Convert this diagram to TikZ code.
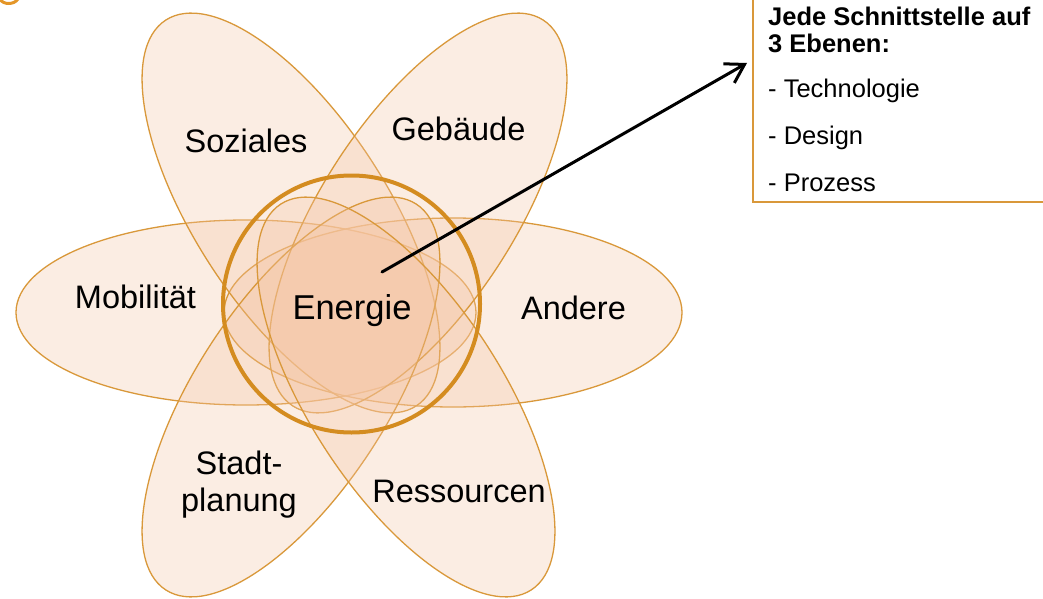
\documentclass[tikz,border=0pt]{standalone}
\usepackage{fontspec}
\setmainfont{Liberation Sans}
\usetikzlibrary{arrows.meta}
\definecolor{petalfill}{RGB}{245,198,165}
\definecolor{petalline}{RGB}{217,152,58}
\definecolor{ringcol}{RGB}{212,140,32}
\definecolor{titleorange}{RGB}{228,150,40}
\begin{document}
\begin{tikzpicture}[x=1pt,y=-1pt,
  petal/.style={draw=petalline, line width=1.3pt, fill=petalfill, fill opacity=0.3},
  lbl/.style={font=\fontsize{32.5}{37}\selectfont, text=black, inner sep=0pt, anchor=base},
  ring/.style={draw=ringcol, line width=4pt},
  infobox/.style={draw=petalline, line width=1.3pt},
  arrowline/.style={draw=black, line width=3pt, line cap=round, -{Straight Barb[length=18pt,width=22pt]}}]
\useasboundingbox (0,0) rectangle (1043,599);
\clip (0,0) rectangle (1043,599);
\fill[white] (0,0) rectangle (1043,599);
% cut-off glyph at top left
\draw[titleorange, line width=3pt] (0,-1) .. controls (3,5) and (14,5) .. (18,-1);
% petals
\path[petal] (246,312.5) ellipse [x radius=230pt, y radius=92.5pt];
\path[petal] (453,312.5) ellipse [x radius=229pt, y radius=94.5pt];
\path[petal, rotate around={-57:(291,213)}] (291,213) ellipse [x radius=230pt, y radius=96pt];
\path[petal, rotate around={57:(418,213)}] (418,213) ellipse [x radius=230pt, y radius=96pt];
\path[petal, rotate around={57:(291,397)}] (291,397) ellipse [x radius=230pt, y radius=96pt];
\path[petal, rotate around={-57:(406,397)}] (406,397) ellipse [x radius=230pt, y radius=96pt];
% central ring
\draw[ring] (351.5,304) circle [radius=128.5pt];
% labels
\node[lbl] (soz) at (246,152) {Soziales};
\node[lbl] (geb) at (458.5,140) {Gebäude};
\node[lbl] (mob) at (135.5,308) {Mobilität};
\node[lbl, font=\fontsize{34.5}{40}\selectfont] (ene) at (352,319) {Energie};
\node[lbl] (and) at (573.5,319) {Andere};
\node[lbl, anchor=center, align=center] (sta) at (239,485) {Stadt-\\planung};
\node[lbl] (res) at (459,502) {Ressourcen};
% info box
\draw[infobox] (753,-10) rectangle (1060,202);
\node[anchor=north west, align=left, inner sep=0pt, font=\fontsize{25.5}{27}\selectfont] (info) at (768,6.5)
  {\textbf{Jede Schnittstelle auf}\\\textbf{3 Ebenen:}\\[18.6pt]- Technologie\\[19.7pt]- Design\\[19.7pt]- Prozess};
% arrow
\coordinate (src) at (382,272);
\coordinate (tip) at (747,63);
\draw[arrowline] (src) -- (tip);
\end{tikzpicture}
\end{document}
